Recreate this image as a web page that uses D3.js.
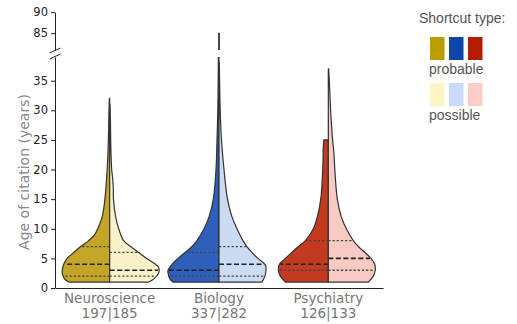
<!DOCTYPE html>
<html>
<head>
<meta charset="utf-8">
<script src="https://cdn.jsdelivr.net/npm/d3@7"></script>
<style>
    body { margin: 0; background: #fff; }
    svg { display: block; }
</style>
</head>
<body>
<svg id="chart" width="517" height="324"></svg>
<script>
const categories = ["Neuroscience", "Biology", "Psychiatry"];
const counts = ["197|185", "337|282", "126|133"];
const lowTicks = [0, 5, 10, 15, 20, 25, 30, 35];
const highTicks = [85, 90];
const legendTypes = ["probable", "possible"];

const probableColors = ["#c4a626", "#2e5fba", "#c33a20"];
const possibleColors = ["#f9f1c8", "#cbdbf2", "#f7cbc4"];
const legendProbable = ["#bb9d00", "#0e45a6", "#b51b00"];
const legendPossible = ["#fff4c4", "#c9dafa", "#ffcdc8"];

// violin half profiles: [age, relative width]
const probableShapes = [
    [[1, 41], [1.5, 45], [2.5, 47.5], [3, 47.5], [4, 46], [5, 42.5], [6, 36], [7, 29], [8, 21], [9, 15], [10, 12], [12, 7.5], [15, 4.8], [20, 2.5], [25, 1.3], [30, 0.7], [32, 0.3]],
    [[1, 46], [1.5, 49], [2.5, 51], [3, 51], [4, 47], [5, 41], [6, 34], [7, 27], [8, 22], [10, 15], [12, 10], [15, 5.7], [20, 3], [25, 2], [30, 1.2], [35, 0.8], [40, 0.6]],
    [[1, 43], [2, 48], [3, 50], [4, 49], [5, 43], [6, 36.6], [7, 30], [8, 23], [10, 15], [12, 11], [15, 7.6], [20, 5.6], [24, 5], [25, 4.5]]
];
const possibleShapes = [
    [[1, 39], [1.5, 44], [2.5, 49], [3, 49.5], [3.5, 49], [4, 46], [5, 37], [6, 29], [7, 21], [8, 14], [10, 9], [12, 6], [15, 3.8], [17, 3.6], [18.5, 3], [20, 2], [22, 1.5], [25, 1], [28, 0.8], [31, 0.3]],
    [[1, 43], [2, 46], [3, 47], [3.5, 47], [4, 46], [5, 39], [6, 33], [7, 28], [8, 24], [10, 18], [12, 13], [15, 8.5], [20, 5], [25, 2.5], [30, 1.2], [35, 0.6], [38, 0.3]],
    [[1, 40], [2, 45], [3, 47], [3.5, 47], [4, 46.5], [5, 42.7], [6, 36.7], [7, 30], [8, 25], [10, 18], [12, 13], [15, 9], [20, 6.5], [23, 5.5], [25, 4.3], [30, 2.3], [35, 1], [37, 0.3]]
];
// long tail of Biology shown above the axis break
const biologyTail = [81, 85.1];

// quartiles [q1, median, q3]
const probableQuartiles = [[2, 4, 7], [2, 3, 6], [3, 4, 8]];
const possibleQuartiles = [[2, 3, 6], [2, 4, 7], [3, 5, 8]];

const svg = d3.select("#chart");

const x = d3.scaleBand().domain(categories).range([55, 383]);
const yLow = d3.scaleLinear().domain([0, 39]).range([288, 57]);
const yHigh = d3.scaleLinear().domain([81, 90]).range([50, 12.2]);
const w = d3.scaleLinear().domain([0, 51]).range([0, 0.466 * x.bandwidth()]);

svg.append("defs").append("clipPath")
    .attr("id", "low-clip")
    .append("rect")
    .attr("x", 0).attr("y", 57).attr("width", 517).attr("height", 231);

const edgeLine = d3.line().curve(d3.curveCatmullRom.alpha(0.5));

const halfPath = (shape, cx, side, y) => {
    const pts = shape.map(d => [cx + side * w(d[1]), y(d[0])]);
    const edge = edgeLine(pts).replace(/^M/, "L");
    return `M${cx},${y(shape[0][0])}${edge}L${cx},${y(shape[shape.length - 1][0])}Z`;
};

const widthAt = (shape, v) => w(d3.scaleLinear().domain(shape.map(d => d[0])).range(shape.map(d => d[1])).clamp(true)(v));

const lowArea = svg.append("g").attr("clip-path", "url(#low-clip)");

categories.forEach((c, i) => {
    const cx = x(c) + x.bandwidth() / 2;
    [[probableShapes[i], probableColors[i], -1, probableQuartiles[i]],
     [possibleShapes[i], possibleColors[i], 1, possibleQuartiles[i]]].forEach(([shape, color, side, quarts]) => {
        lowArea.append("path")
            .attr("d", halfPath(shape, cx, side, yLow))
            .attr("fill", color)
            .attr("stroke", "#333")
            .attr("stroke-width", 1.2)
            .attr("stroke-linejoin", "round");

        lowArea.selectAll(null)
            .data(quarts)
            .join("line")
            .attr("x1", cx)
            .attr("x2", d => cx + side * (widthAt(shape, d) - 1))
            .attr("y1", d => yLow(d))
            .attr("y2", d => yLow(d))
            .attr("stroke", (d, k) => k === 1 ? "#222" : "#444")
            .attr("stroke-width", (d, k) => k === 1 ? 1.6 : 1.3)
            .attr("stroke-dasharray", (d, k) => k === 1 ? "5,2.5" : "2.2,2");
    });
});

// tail above break
const bioX = x("Biology") + x.bandwidth() / 2;
svg.append("line")
    .attr("x1", bioX).attr("x2", bioX)
    .attr("y1", yHigh(biologyTail[0])).attr("y2", yHigh(biologyTail[1]))
    .attr("stroke", "#333")
    .attr("stroke-width", 1.8);

// Axes
const lowAxis = svg.append("g")
    .attr("transform", "translate(55,0)")
    .call(d3.axisLeft(yLow).tickValues(lowTicks).tickSize(4).tickSizeOuter(0).tickPadding(3));

const highAxis = svg.append("g")
    .attr("transform", "translate(55,0)")
    .call(d3.axisLeft(yHigh).tickValues(highTicks).tickSize(4).tickSizeOuter(0).tickPadding(3));

[lowAxis, highAxis].forEach(g => {
    g.select(".domain").attr("stroke", "#222").attr("stroke-width", 1);
    g.selectAll(".tick line").attr("stroke", "#222");
    g.selectAll(".tick text")
        .attr("fill", "#222")
        .attr("font-family", "DejaVu Sans")
        .attr("font-size", 11.5);
});

// axis break marks
svg.selectAll(".break")
    .data([50.5, 56.5])
    .join("line")
    .attr("class", "break")
    .attr("x1", 49.5).attr("x2", 60.5)
    .attr("y1", d => d + 2.5).attr("y2", d => d - 2.5)
    .attr("stroke", "#222")
    .attr("stroke-width", 1);

const xAxis = svg.append("g")
    .attr("transform", "translate(0,288)")
    .call(d3.axisBottom(x).tickSize(0).tickSizeOuter(0).tickFormat(""));

xAxis.select(".domain").attr("stroke", "#222").attr("stroke-width", 1);
xAxis.selectAll(".tick text").remove();

xAxis.selectAll(".tick").append("text")
    .attr("fill", "#777")
    .attr("font-family", "DejaVu Sans")
    .attr("font-size", 13.5)
    .attr("text-anchor", "middle")
    .selectAll("tspan")
    .data(d => [d, counts[categories.indexOf(d)]])
    .join("tspan")
    .attr("x", 0)
    .attr("y", (d, k) => k === 0 ? 15 : 30)
    .text(d => d);

svg.append("text")
    .attr("transform", "translate(29,172) rotate(-90)")
    .attr("text-anchor", "middle")
    .attr("fill", "#888")
    .attr("font-family", "DejaVu Sans")
    .attr("font-size", 14)
    .text("Age of citation (years)");

// Legend
const legend = svg.append("g").attr("font-family", "Liberation Sans, Arial, sans-serif");

legend.append("text")
    .attr("x", 419).attr("y", 23)
    .attr("fill", "#555")
    .attr("font-size", 14)
    .text("Shortcut type:");

[legendProbable, legendPossible].forEach((colors, r) => {
    legend.selectAll(null)
        .data(colors)
        .join("rect")
        .attr("x", (d, k) => 430 + k * 19)
        .attr("y", 37 + r * 46)
        .attr("width", 14.5)
        .attr("height", 23)
        .attr("fill", d => d);

    legend.append("text")
        .attr("x", 429)
        .attr("y", 74 + r * 46)
        .attr("fill", "#555")
        .attr("font-size", 14)
        .text(legendTypes[r]);
});
</script>
</body>
</html>
